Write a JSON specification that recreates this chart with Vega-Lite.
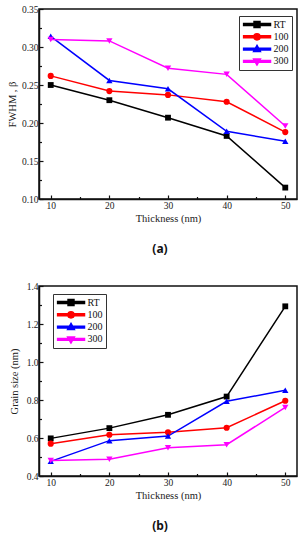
{
  "$schema": "https://vega.github.io/schema/vega-lite/v6.json",
  "padding": {"left": 6, "top": 3, "right": 4, "bottom": 2},
  "spacing": 24,
  "datasets": {
    "fwhm": [
      {"t": 10, "series": "RT", "v": 0.250}, {"t": 20, "series": "RT", "v": 0.230}, {"t": 30, "series": "RT", "v": 0.207}, {"t": 40, "series": "RT", "v": 0.183}, {"t": 50, "series": "RT", "v": 0.115},
      {"t": 10, "series": "100", "v": 0.262}, {"t": 20, "series": "100", "v": 0.242}, {"t": 30, "series": "100", "v": 0.237}, {"t": 40, "series": "100", "v": 0.228}, {"t": 50, "series": "100", "v": 0.188},
      {"t": 10, "series": "200", "v": 0.314}, {"t": 20, "series": "200", "v": 0.256}, {"t": 30, "series": "200", "v": 0.245}, {"t": 40, "series": "200", "v": 0.189}, {"t": 50, "series": "200", "v": 0.176},
      {"t": 10, "series": "300", "v": 0.310}, {"t": 20, "series": "300", "v": 0.308}, {"t": 30, "series": "300", "v": 0.272}, {"t": 40, "series": "300", "v": 0.264}, {"t": 50, "series": "300", "v": 0.196}
    ],
    "grain": [
      {"t": 10, "series": "RT", "v": 0.598}, {"t": 20, "series": "RT", "v": 0.652}, {"t": 30, "series": "RT", "v": 0.722}, {"t": 40, "series": "RT", "v": 0.818}, {"t": 50, "series": "RT", "v": 1.293},
      {"t": 10, "series": "100", "v": 0.570}, {"t": 20, "series": "100", "v": 0.617}, {"t": 30, "series": "100", "v": 0.630}, {"t": 40, "series": "100", "v": 0.654}, {"t": 50, "series": "100", "v": 0.796},
      {"t": 10, "series": "200", "v": 0.477}, {"t": 20, "series": "200", "v": 0.586}, {"t": 30, "series": "200", "v": 0.610}, {"t": 40, "series": "200", "v": 0.793}, {"t": 50, "series": "200", "v": 0.851},
      {"t": 10, "series": "300", "v": 0.482}, {"t": 20, "series": "300", "v": 0.488}, {"t": 30, "series": "300", "v": 0.549}, {"t": 40, "series": "300", "v": 0.565}, {"t": 50, "series": "300", "v": 0.761}
    ]
  },
  "resolve": {"scale": {"color": "independent", "shape": "independent", "y": "independent"}, "legend": {"color": "independent", "shape": "independent"}},
  "vconcat": [
    {
      "width": 258,
      "height": 190,
      "data": {"name": "fwhm"},
      "title": {"text": "(a)", "orient": "bottom", "anchor": "middle", "dx": -8, "offset": 20, "font": "Noto Sans", "fontWeight": "bold", "fontSize": 12, "color": "#111"},
      "encoding": {
        "x": {"field": "t", "type": "quantitative", "scale": {"domain": [8, 52], "nice": false, "zero": false},
          "axis": {"title": "Thickness (nm)", "values": [10, 15, 20, 25, 30, 35, 40, 45, 50], "labelExpr": "datum.value % 10 === 0 ? datum.label : ''",
            "tickSize": {"condition": {"test": "datum.value % 10 !== 0", "value": -2.5}, "value": -4}, "labelPadding": 5, "titlePadding": 4}},
        "y": {"field": "v", "type": "quantitative", "scale": {"domain": [0.10, 0.35], "nice": false, "zero": false},
          "axis": {"title": "FWHM , β", "values": [0.10, 0.125, 0.15, 0.175, 0.20, 0.225, 0.25, 0.275, 0.30, 0.325, 0.35],
            "labelExpr": "round(datum.value*1000) % 50 === 0 ? format(datum.value, '.2f') : ''",
            "tickSize": {"condition": {"test": "round(datum.value*1000) % 50 !== 0", "value": -2.5}, "value": -4}, "labelPadding": 5, "titlePadding": 4}},
        "color": {"field": "series", "type": "nominal", "scale": {"domain": ["RT", "100", "200", "300"], "range": ["#000000", "#ff0000", "#0000ff", "#ff00ff"]},
          "legend": {"title": null, "orient": "none", "legendX": 200, "legendY": 7, "symbolSize": 729, "clipHeight": 10, "labelOffset": 2, "rowPadding": 2.3, "padding": 3.5,
            "strokeColor": "#333", "fillColor": "white", "labelFont": "Liberation Serif", "labelFontSize": 10, "labelColor": "#111", "symbolOpacity": 1}}
      },
      "layer": [
        {"mark": {"type": "line", "strokeWidth": 1.5}},
        {"transform": [{"filter": "datum.series === 'RT'"}], "mark": {"type": "point", "shape": "square", "filled": true, "opacity": 1, "size": 34}},
        {"transform": [{"filter": "datum.series === '100'"}], "mark": {"type": "point", "shape": "circle", "filled": true, "opacity": 1, "size": 38}},
        {"transform": [{"filter": "datum.series === '200'"}], "mark": {"type": "point", "shape": "triangle-up", "filled": true, "opacity": 1, "size": 40}},
        {"transform": [{"filter": "datum.series === '300'"}], "mark": {"type": "point", "shape": "triangle-down", "filled": true, "opacity": 1, "size": 40}},
        {"transform": [{"filter": "false"}], "mark": {"type": "point", "filled": true, "opacity": 1},
          "encoding": {"shape": {"field": "series", "type": "nominal", "scale": {"domain": ["RT", "100", "200", "300"],
            "range": ["M-1,-0.07H1V0.07H-1ZM-0.22,-0.22H0.22V0.22H-0.22Z", "M-1,-0.07H1V0.07H-1ZM0.23,0A0.23,0.23,0,1,1,-0.23,0A0.23,0.23,0,1,1,0.23,0Z", "M-1,-0.07H1V0.07H-1ZM0,-0.27L0.25,0.17H-0.25Z", "M-1,-0.07H1V0.07H-1ZM0,0.27L-0.25,-0.17H0.25Z"]},
            "legend": {"title": null, "orient": "none", "legendX": 200, "legendY": 7, "symbolSize": 729, "clipHeight": 10, "labelOffset": 2, "rowPadding": 2.3, "padding": 3.5,
              "strokeColor": "#333", "fillColor": "white", "labelFont": "Liberation Serif", "labelFontSize": 10, "labelColor": "#111", "symbolOpacity": 1}}}}
      ]
    },
    {
      "width": 258,
      "height": 190,
      "data": {"name": "grain"},
      "title": {"text": "(b)", "orient": "bottom", "anchor": "middle", "dx": -8, "offset": 20, "font": "Noto Sans", "fontWeight": "bold", "fontSize": 12, "color": "#111"},
      "encoding": {
        "x": {"field": "t", "type": "quantitative", "scale": {"domain": [8, 52], "nice": false, "zero": false},
          "axis": {"title": "Thickness (nm)", "values": [10, 15, 20, 25, 30, 35, 40, 45, 50], "labelExpr": "datum.value % 10 === 0 ? datum.label : ''",
            "tickSize": {"condition": {"test": "datum.value % 10 !== 0", "value": -2.5}, "value": -4}, "labelPadding": 5, "titlePadding": 4}},
        "y": {"field": "v", "type": "quantitative", "scale": {"domain": [0.4, 1.4], "nice": false, "zero": false},
          "axis": {"title": "Grain size (nm)", "values": [0.4, 0.5, 0.6, 0.7, 0.8, 0.9, 1.0, 1.1, 1.2, 1.3, 1.4],
            "labelExpr": "round(datum.value*10) % 2 === 0 ? format(datum.value, '.1f') : ''",
            "tickSize": {"condition": {"test": "round(datum.value*10) % 2 !== 0", "value": -2.5}, "value": -4}, "labelPadding": 5, "titlePadding": 7}},
        "color": {"field": "series", "type": "nominal", "scale": {"domain": ["RT", "100", "200", "300"], "range": ["#000000", "#ff0000", "#0000ff", "#ff00ff"]},
          "legend": {"title": null, "orient": "none", "legendX": 14, "legendY": 8, "symbolSize": 729, "clipHeight": 10, "labelOffset": 2, "rowPadding": 2.3, "padding": 3.5,
            "strokeColor": "#333", "fillColor": "white", "labelFont": "Liberation Serif", "labelFontSize": 10, "labelColor": "#111", "symbolOpacity": 1}}
      },
      "layer": [
        {"mark": {"type": "line", "strokeWidth": 1.5}},
        {"transform": [{"filter": "datum.series === 'RT'"}], "mark": {"type": "point", "shape": "square", "filled": true, "opacity": 1, "size": 34}},
        {"transform": [{"filter": "datum.series === '100'"}], "mark": {"type": "point", "shape": "circle", "filled": true, "opacity": 1, "size": 38}},
        {"transform": [{"filter": "datum.series === '200'"}], "mark": {"type": "point", "shape": "triangle-up", "filled": true, "opacity": 1, "size": 40}},
        {"transform": [{"filter": "datum.series === '300'"}], "mark": {"type": "point", "shape": "triangle-down", "filled": true, "opacity": 1, "size": 40}},
        {"transform": [{"filter": "false"}], "mark": {"type": "point", "filled": true, "opacity": 1},
          "encoding": {"shape": {"field": "series", "type": "nominal", "scale": {"domain": ["RT", "100", "200", "300"],
            "range": ["M-1,-0.07H1V0.07H-1ZM-0.22,-0.22H0.22V0.22H-0.22Z", "M-1,-0.07H1V0.07H-1ZM0.23,0A0.23,0.23,0,1,1,-0.23,0A0.23,0.23,0,1,1,0.23,0Z", "M-1,-0.07H1V0.07H-1ZM0,-0.27L0.25,0.17H-0.25Z", "M-1,-0.07H1V0.07H-1ZM0,0.27L-0.25,-0.17H0.25Z"]},
            "legend": {"title": null, "orient": "none", "legendX": 14, "legendY": 8, "symbolSize": 729, "clipHeight": 10, "labelOffset": 2, "rowPadding": 2.3, "padding": 3.5,
              "strokeColor": "#333", "fillColor": "white", "labelFont": "Liberation Serif", "labelFontSize": 10, "labelColor": "#111", "symbolOpacity": 1}}}}
      ]
    }
  ],
  "config": {
    "background": "white",
    "view": {"stroke": "#111", "strokeWidth": 1.5},
    "axis": {"grid": false, "domainColor": "#111", "domainWidth": 1.5, "tickColor": "#111", "tickWidth": 1.2,
      "labelFont": "Liberation Serif", "labelFontSize": 9.5, "labelColor": "#222",
      "titleFont": "Liberation Serif", "titleFontSize": 10.5, "titleFontWeight": "normal", "titleColor": "#222"}
  }
}
